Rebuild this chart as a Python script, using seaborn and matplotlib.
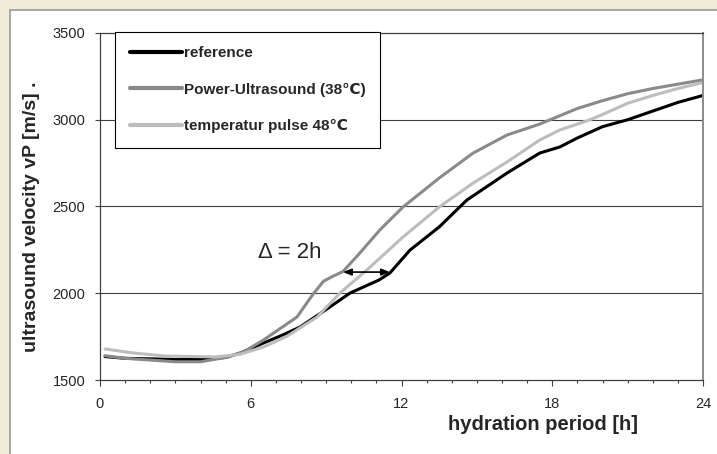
import pandas as pd
import seaborn as sns
import matplotlib.pyplot as plt
from matplotlib.patches import Rectangle
from matplotlib.lines import Line2D

# hydration curves (hours, m/s)
ref_h = [0.2, 1, 2, 3, 4, 5, 5.6, 6.5, 7.2, 7.96, 9.15, 9.95, 11.1, 11.54, 12.34, 13.5, 14.6, 16.2, 17.5,
         18.3, 19, 20, 21, 22, 23, 24]
ref_v = [1635, 1625, 1622, 1618, 1618, 1630, 1656, 1713, 1755, 1805, 1921, 2001, 2076, 2117, 2249, 2382, 2537,
         2693, 2808, 2843, 2895, 2960, 3000, 3050, 3100, 3140]

pu_h = [0.2, 1, 2, 3, 4, 5, 5.7, 6.5, 7.84, 8.48, 8.9, 9.3, 9.67, 10.3, 11.14, 12.06, 13.5, 14.85, 16.2, 17.5,
        18, 19, 20, 21, 22, 23, 24]
pu_v = [1640, 1625, 1615, 1605, 1605, 1630, 1661, 1730, 1863, 1995, 2070, 2100, 2125, 2225, 2365, 2497, 2664,
        2808, 2912, 2975, 3005, 3065, 3110, 3150, 3180, 3205, 3230]

tp_h = [0.2, 1.3, 2.6, 4.6, 5.57, 6.5, 7.44, 8.64, 9.55, 10.75, 12.06, 13.5, 14.85, 16.2, 17.5, 18.3, 19,
        19.5, 20, 21, 22, 23, 24]
tp_v = [1679, 1656, 1638, 1633, 1648, 1690, 1752, 1863, 2001, 2151, 2324, 2497, 2635, 2757, 2883, 2941, 2975,
        3000, 3030, 3095, 3140, 3180, 3215]

labels = ['reference', 'Power-Ultrasound (38℃)', 'temperatur pulse 48℃']
colors = ['black', '#8a8a8a', '#bdbdbd']

df = pd.concat([
    pd.DataFrame({'h': ref_h, 'v': ref_v, 'series': labels[0]}),
    pd.DataFrame({'h': pu_h, 'v': pu_v, 'series': labels[1]}),
    pd.DataFrame({'h': tp_h, 'v': tp_v, 'series': labels[2]}),
])

sns.set_style('white')
plt.rcParams['font.family'] = ['Liberation Sans', 'DejaVu Sans']

fig = plt.figure(figsize=(7.17, 4.54), dpi=100, facecolor='#efedd9')
# white panel, beige band top/left with grey edge lines
x0, y0 = 10 / 717, 1 - 10 / 454
fig.patches.append(Rectangle((x0, 0), 1 - x0, y0, transform=fig.transFigure,
                             facecolor='white', edgecolor='none', zorder=-5))
fig.lines.append(Line2D([x0, 1], [y0, y0], transform=fig.transFigure, color='#9a9a9a', lw=1.2))
fig.lines.append(Line2D([x0, x0], [0, y0], transform=fig.transFigure, color='#9a9a9a', lw=1.2))

ax = fig.add_axes([100 / 717, 1 - 380 / 454, 603 / 717, 347 / 454])
ax.set_facecolor('white')

sns.lineplot(data=df, x='h', y='v', hue='series', hue_order=labels, palette=colors,
             linewidth=2.2, estimator=None, sort=False, ax=ax)

ax.set_xlim(0, 24)
ax.set_ylim(1500, 3500)
ax.set_xticks([0, 6, 12, 18, 24])
ax.set_xticks(range(0, 25), minor=True)
ax.set_yticks([1500, 2000, 2500, 3000, 3500])
ax.tick_params(axis='x', which='major', direction='out', length=4.5, width=0.8, color='#404040',
               bottom=True, labelsize=10.5, pad=8)
ax.tick_params(axis='x', which='minor', direction='out', length=2.5, width=0.8, color='#404040', bottom=True)
ax.tick_params(axis='y', direction='out', length=3.6, width=0.8, color='#404040', left=True,
               labelsize=10.5, pad=7)

for y in [2000, 2500, 3000]:
    ax.axhline(y, color='#404040', linewidth=0.8, zorder=0.5)

for side in ['left', 'bottom', 'top']:
    ax.spines[side].set_color('#404040')
    ax.spines[side].set_linewidth(0.9)
ax.spines['right'].set_color('#8c8c8c')
ax.spines['right'].set_linewidth(1.4)

ax.set_xlabel('hydration period [h]', fontsize=14.5, fontweight='bold')
ax.set_ylabel('ultrasound velocity vP [m/s] .', fontsize=14, fontweight='bold')
ax.xaxis.set_label_coords(0.735, -0.1)
ax.yaxis.set_label_coords(-0.1, 0.47)

handles, _ = ax.get_legend_handles_labels()
leg = ax.legend(handles, labels, loc='upper left', bbox_to_anchor=(0.025, 1.003), borderaxespad=0,
                frameon=True, fancybox=False, edgecolor='black', framealpha=1,
                prop={'weight': 'bold', 'size': 11}, handlelength=3.4, handletextpad=0.15,
                labelspacing=1.45, borderpad=0.95)
leg.get_frame().set_linewidth(0.8)
for line in leg.get_lines():
    line.set_linewidth(3)

ax.annotate('', xy=(9.67, 2122), xytext=(11.54, 2122),
            arrowprops=dict(arrowstyle='<|-|>,head_length=0.5,head_width=0.2', color='black', lw=1.2,
                            shrinkA=0, shrinkB=0))
ax.text(6.29, 2203, 'Δ = 2h', fontsize=16, ha='left', va='baseline')

plt.savefig('out.png', dpi=100, facecolor=fig.get_facecolor())
